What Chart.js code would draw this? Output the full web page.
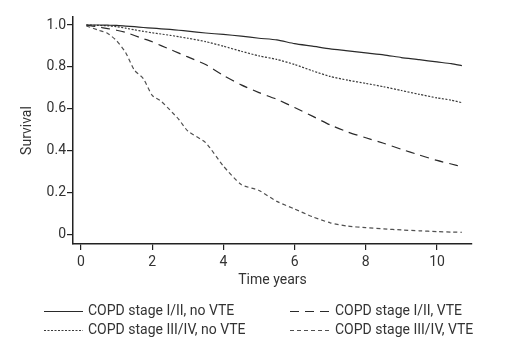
<!DOCTYPE html>
<html>
<head>
<meta charset="utf-8">
<script src="https://cdn.jsdelivr.net/npm/chart.js@4/dist/chart.umd.min.js"></script>
<style>
  html, body { margin: 0; padding: 0; background: #fff; }
  #wrap { width: 507px; height: 356px; position: relative; }
</style>
</head>
<body>
<div id="wrap"><canvas id="c" width="507" height="356"></canvas></div>
<script>
// ---- data ----
const times = [0.15,0.5,0.75,1,1.25,1.5,1.75,2,2.25,2.5,2.75,3,3.5,4,4.5,5,5.5,6,6.5,7,7.5,8,8.5,9,9.5,10,10.4,10.7];
const seriesLabels = ["COPD stage I/II, no VTE", "COPD stage III/IV, no VTE", "COPD stage I/II, VTE", "COPD stage III/IV, VTE"];
const stageI_noVTE   = [1.0,1.0,0.999,0.998,0.995,0.992,0.988,0.985,0.982,0.979,0.975,0.971,0.962,0.955,0.947,0.937,0.929,0.911,0.899,0.886,0.877,0.867,0.858,0.845,0.835,0.824,0.816,0.806];
const stageIII_noVTE = [1.0,0.998,0.996,0.992,0.985,0.977,0.97,0.963,0.957,0.951,0.944,0.937,0.921,0.899,0.875,0.853,0.836,0.812,0.782,0.755,0.737,0.722,0.706,0.688,0.67,0.653,0.642,0.63];
const stageI_VTE     = [1.0,0.99,0.983,0.975,0.965,0.95,0.935,0.92,0.902,0.884,0.866,0.848,0.812,0.76,0.715,0.678,0.646,0.607,0.566,0.524,0.49,0.463,0.437,0.408,0.381,0.355,0.338,0.325];
const stageIII_VTE   = [0.995,0.975,0.96,0.925,0.87,0.785,0.745,0.665,0.637,0.595,0.55,0.495,0.44,0.328,0.24,0.212,0.16,0.124,0.087,0.058,0.042,0.035,0.029,0.024,0.02,0.016,0.014,0.013];
const xTickValues = [0,2,4,6,8,10];
const yTickValues = [0,0.2,0.4,0.6,0.8,1.0];
const yTickLabels = ["0","0.2","0.4","0.6","0.8","1.0"];
const xTitle = "Time years";
const yTitle = "Survival";

// ---- styling ----
const FONT = "Roboto, 'Liberation Sans', Arial, sans-serif";
const styles = [
  { color: "#2a2a2a", dash: [] },
  { color: "#3a3a3a", dash: [2, 1.5] },
  { color: "#2a2a2a", dash: [9, 6] },
  { color: "#505050", dash: [4, 3] }
];
const allSeries = [stageI_noVTE, stageIII_noVTE, stageI_VTE, stageIII_VTE];

const datasets = allSeries.map((s, k) => ({
  label: seriesLabels[k],
  data: times.map((t, i) => ({ x: t, y: s[i] })),
  borderColor: styles[k].color,
  borderDash: styles[k].dash,
  borderWidth: 1.2,
  pointRadius: 0,
  tension: 0.2,
  fill: false
}));

// legend positions: [lineStartX, lineEndX, textX, y]
const legendSlots = [
  [44, 83, 88, 311.5],
  [44, 83, 88, 330.5],
  [290, 330, 335, 311.5],
  [290, 330, 335, 330.5]
];

const legendPlugin = {
  id: 'gridLegend',
  afterDraw(chart) {
    const ctx = chart.ctx;
    ctx.save();
    chart.data.datasets.forEach((ds, k) => {
      const [x1, x2, tx, y] = legendSlots[k];
      ctx.beginPath();
      ctx.strokeStyle = ds.borderColor;
      ctx.lineWidth = 1.2;
      ctx.setLineDash(ds.borderDash || []);
      ctx.moveTo(x1, y);
      ctx.lineTo(x2, y);
      ctx.stroke();
      ctx.setLineDash([]);
      ctx.fillStyle = "#333";
      ctx.font = "14px " + FONT;
      ctx.textBaseline = "middle";
      ctx.textAlign = "left";
      ctx.fillText(ds.label, tx, y);
    });
    ctx.restore();
  }
};

new Chart(document.getElementById('c'), {
  type: 'line',
  data: { datasets },
  plugins: [legendPlugin],
  options: {
    responsive: false,
    animation: false,
    devicePixelRatio: 1,
    layout: { padding: { left: 0, top: 17, right: 35, bottom: 67 } },
    plugins: { legend: { display: false }, tooltip: { enabled: false } },
    scales: {
      x: {
        type: 'linear',
        min: -0.2247,
        max: 10.983,
        afterBuildTicks: (scale) => { scale.ticks = xTickValues.map(v => ({ value: v })); },
        afterFit: (scale) => { scale.height = 45; },
        grid: { display: true, drawOnChartArea: false, drawTicks: true, tickLength: 6, color: "#222", lineWidth: 1.2 },
        border: { display: true, color: "#222", width: 1.5 },
        ticks: { color: "#333", font: { family: FONT, size: 14 }, padding: 4, maxRotation: 0,
                 callback: (v) => String(v) },
        title: { display: true, text: xTitle, color: "#333", font: { family: FONT, size: 14 }, padding: { top: 0, bottom: 0 } }
      },
      y: {
        type: 'linear',
        min: -0.0429,
        max: 1.0381,
        afterBuildTicks: (scale) => { scale.ticks = yTickValues.map(v => ({ value: v })); },
        afterFit: (scale) => { scale.width = 73; },
        grid: { display: true, drawOnChartArea: false, drawTicks: true, tickLength: 6, color: "#222", lineWidth: 1.2 },
        border: { display: true, color: "#222", width: 1.5 },
        ticks: { color: "#333", font: { family: FONT, size: 14 }, padding: 1,
                 callback: (v) => { const i = yTickValues.findIndex(t => Math.abs(t - v) < 1e-9); return i >= 0 ? yTickLabels[i] : ''; } },
        title: { display: true, text: yTitle, color: "#333", font: { family: FONT, size: 14 }, padding: { top: 19, bottom: 0 } }
      }
    }
  }
});
</script>
</body>
</html>
